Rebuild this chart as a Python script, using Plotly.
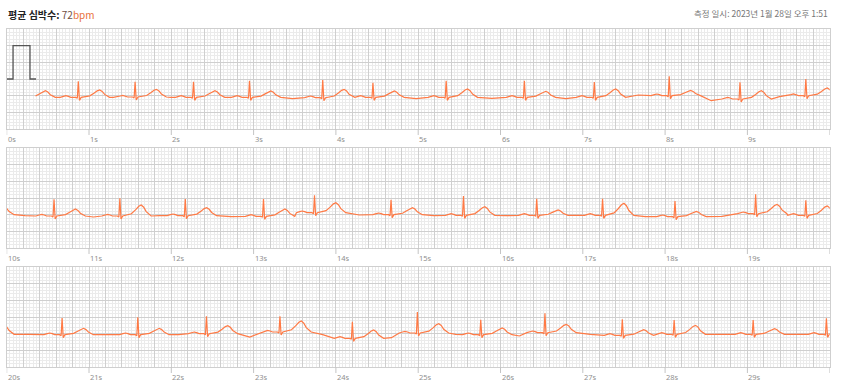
import numpy as np
import plotly.graph_objects as go

# ---------------- data ----------------
# R-peak times (s, absolute over the 30 s record); first entry is the beat
# just before the visible trace starts (only its T wave is visible)
R_TIME = [0.21, 0.87, 1.56, 2.27, 2.95, 3.84, 4.45, 5.34, 6.29, 7.14, 8.05, 8.91, 9.71,
          10.575, 11.375, 12.17, 13.12, 13.74, 14.67, 15.55, 16.44, 17.24, 18.12, 19.10, 19.71,
          20.673, 21.593, 22.427, 23.32, 24.20, 24.99, 25.76, 26.54, 27.48, 28.11, 29.07, 29.96]
# R amplitude above the local baseline (mV)
R_AMP = [0.45, 0.48, 0.46, 0.47, 0.50, 0.53, 0.44, 0.50, 0.50, 0.46, 0.58, 0.50, 0.50,
         0.50, 0.53, 0.50, 0.52, 0.52, 0.45, 0.58, 0.50, 0.50, 0.47, 0.58, 0.45,
         0.50, 0.52, 0.52, 0.47, 0.50, 0.63, 0.45, 0.58, 0.48, 0.43, 0.43, 0.48]
# T-wave amplitude (mV)
T_AMP = [0.20, 0.22, 0.23, 0.20, 0.19, 0.25, 0.19, 0.25, 0.18, 0.25, 0.16, 0.25, 0.23,
         0.21, 0.33, 0.24, 0.22, 0.30, 0.21, 0.26, 0.16, 0.36, 0.16, 0.28, 0.28,
         0.19, 0.19, 0.24, 0.33, 0.25, 0.28, 0.20, 0.25, 0.17, 0.27, 0.17, 0.20]
# baseline level of each beat (mV)
BASE = [0.95, 0.95, 0.96, 0.95, 0.95, 0.94, 0.95, 0.95, 0.95, 0.95, 1.00, 0.90, 1.00,
        0.96, 0.96, 0.97, 0.95, 1.06, 1.00, 0.98, 0.98, 0.98, 0.94, 1.03, 0.98,
        0.97, 0.97, 1.00, 1.05, 0.86, 1.02, 0.97, 1.03, 0.95, 0.98, 0.98, 0.98]
# level in the middle of the T-P gap that follows each beat (mV)
GAP = [0.94, 0.95, 0.95, 0.95, 0.91, 0.95, 0.91, 0.92, 0.91, 1.02, 0.85, 0.97, 0.97,
       0.93, 0.97, 0.94, 1.03, 0.99, 0.97, 0.97, 0.97, 0.94, 0.95, 1.02, 0.98,
       0.96, 0.97, 0.90, 0.97, 0.88, 0.98, 0.93, 0.98, 0.98, 0.98, 0.98, 0.98]

# beat shape: time offset from R (s), fixed part (mV),
# share of R amplitude, share of T amplitude
TPL_DT = [-0.22, -0.18, -0.15, -0.12, -0.09, -0.03, -0.012, 0.0, 0.014, 0.035,
          0.09, 0.14, 0.19, 0.23, 0.26, 0.29, 0.32, 0.38]
TPL_FIX = [0.0, 0.03, 0.05, 0.03, 0.0, 0.0, -0.03, 0.0, -0.09, 0.0,
           0.01, 0.0, 0.0, 0.0, 0.0, 0.0, 0.0, 0.0]
TPL_R = [0, 0, 0, 0, 0, 0, 0, 1, 0, 0, 0, 0, 0, 0, 0, 0, 0, 0]
TPL_T = [0, 0, 0, 0, 0, 0, 0, 0, 0, 0, 0.05, 0.2, 0.55, 0.88, 1.0, 0.8, 0.4, 0.0]

TRACE_START = 0.35          # s, where the recorded trace begins
CAL_T = [0.0, 0.077, 0.077, 0.283, 0.283, 0.356]   # calibration pulse
CAL_V = [1.5, 1.5, 2.5, 2.5, 1.5, 1.5]

STRIP_SECONDS = 10
N_STRIPS = 3
TICK_SECONDS = list(range(0, 11))

HEADER_LEFT = "평균 심박수:"
HEADER_BPM = "72"
HEADER_UNIT = "bpm"
HEADER_RIGHT = "측정 일시: 2023년 1월 28일 오후 1:51"

# ---------------- build the trace ----------------
tt, vv = [], []
n = len(R_TIME)
for i in range(n):
    r, ra, ta, b, g = R_TIME[i], R_AMP[i], T_AMP[i], BASE[i], GAP[i]
    for dt, f, cr, ct in zip(TPL_DT, TPL_FIX, TPL_R, TPL_T):
        tt.append(r + dt)
        vv.append(b + f + ra * cr + ta * ct)
    if i < n - 1:
        end = r + TPL_DT[-1]
        nxt = R_TIME[i + 1] + TPL_DT[0]
        if nxt - end > 0.04:
            tt.append((end + nxt) / 2)
            vv.append(g)
tt = np.array(tt)
vv = np.array(vv)

W, H = 847, 389
X0, X1 = 6.7, 829.7
STRIP_TOPS = [29, 148, 267]
STRIP_H = 100

ORANGE = "#ff7a45"
MAJOR = "#cfcfcf"
MINOR = "#ebebeb"

fig = go.Figure()
layout = dict(width=W, height=H, autosize=False,
              margin=dict(l=0, r=0, t=0, b=0),
              paper_bgcolor="white", plot_bgcolor="white",
              showlegend=False,
              font=dict(family="Noto Sans CJK KR, Noto Sans, sans-serif"))
shapes, annotations = [], []

for k in range(N_STRIPS):
    sx = "" if k == 0 else str(k + 1)
    xname, yname = "x" + sx, "y" + sx
    top = STRIP_TOPS[k]
    ydom = [1 - (top + STRIP_H) / H, 1 - top / H]
    layout["xaxis" + sx] = dict(domain=[X0 / W, X1 / W], range=[0, STRIP_SECONDS],
                                anchor=yname, tick0=0, dtick=0.2, showticklabels=False,
                                ticks="", showgrid=True, gridcolor=MAJOR, gridwidth=1,
                                zeroline=False, showline=True, linecolor=MAJOR, mirror=True,
                                minor=dict(tick0=0, dtick=0.04, showgrid=True,
                                           gridcolor=MINOR, gridwidth=1),
                                fixedrange=True)
    layout["yaxis" + sx] = dict(domain=ydom, range=[0, 3], anchor=xname,
                                tick0=0, dtick=0.5, showticklabels=False, ticks="",
                                showgrid=True, gridcolor=MAJOR, gridwidth=1,
                                zeroline=False, showline=True, linecolor=MAJOR, mirror=True,
                                minor=dict(tick0=0, dtick=0.1, showgrid=True,
                                           gridcolor=MINOR, gridwidth=1),
                                fixedrange=True)
    lo = k * STRIP_SECONDS
    mask = (tt >= lo - 0.5) & (tt <= lo + STRIP_SECONDS + 0.5)
    if k == 0:
        mask &= tt >= TRACE_START
    fig.add_trace(go.Scatter(x=tt[mask] - lo, y=vv[mask], mode="lines",
                             line=dict(color=ORANGE, width=1.2),
                             xaxis=xname, yaxis=yname, hoverinfo="skip"))
    if k == 0:
        fig.add_trace(go.Scatter(x=CAL_T, y=CAL_V, mode="lines",
                                 line=dict(color="#555555", width=1.3),
                                 xaxis=xname, yaxis=yname, hoverinfo="skip"))
    for s in TICK_SECONDS:
        shapes.append(dict(type="line", xref=xname, yref=yname + " domain",
                           x0=s, x1=s, y0=0, y1=-0.06,
                           line=dict(color="#c4c4c4", width=1)))
        if s < STRIP_SECONDS:
            annotations.append(dict(text=f"{lo + s}s", x=s, xref=xname,
                                    y=-0.1, yref=yname + " domain",
                                    xanchor="left", yanchor="middle", xshift=-1,
                                    showarrow=False,
                                    font=dict(size=7.5, color="#8f8f8f",
                                              family="Noto Sans, sans-serif")))

annotations.append(dict(
    text=f"<b>{HEADER_LEFT}</b> <span style='color:#6e5044'>{HEADER_BPM}</span>"
         f"<span style='color:#e8703a'>{HEADER_UNIT}</span>",
    x=6 / W, y=1 - 14.5 / H, xref="paper", yref="paper",
    xanchor="left", yanchor="middle", showarrow=False,
    font=dict(size=10, color="#222222", family="Noto Sans CJK KR")))
annotations.append(dict(
    text=HEADER_RIGHT, x=830 / W, y=1 - 13.5 / H, xref="paper", yref="paper",
    xanchor="right", yanchor="middle", showarrow=False,
    font=dict(size=8.5, color="#777777", family="Noto Sans CJK KR")))

layout["shapes"] = shapes
layout["annotations"] = annotations
fig.update_layout(**layout)
fig.write_html("out.html",
               config={"displayModeBar": False, "staticPlot": True},
               post_script="document.body.style.margin='0';"
                           "document.body.style.overflow='hidden';")
